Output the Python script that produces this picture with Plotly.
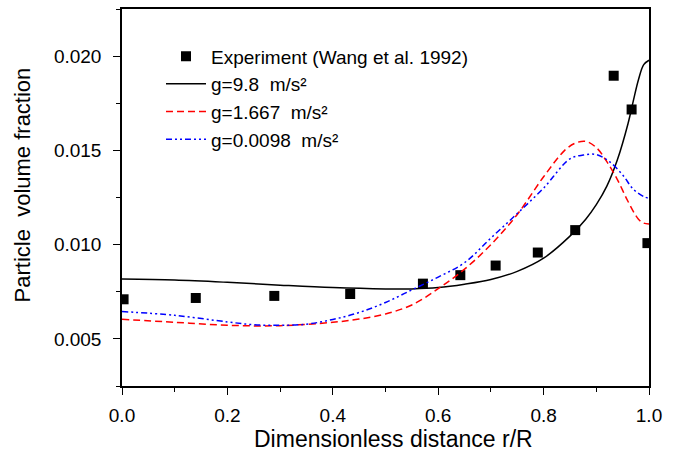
import plotly.graph_objects as go

# Experiment (Wang et al. 1992)
exp_x = [0.003, 0.14, 0.289, 0.433, 0.571, 0.642, 0.709, 0.789, 0.860, 0.933, 0.967, 0.997]
exp_y = [0.00710, 0.00717, 0.00728, 0.00738, 0.00793, 0.00838, 0.00889, 0.00958, 0.01077, 0.01896, 0.01717, 0.01008]

# g = 9.8 m/s^2
g1_x = [0, 0.1, 0.2, 0.3, 0.4, 0.5, 0.55, 0.6, 0.65, 0.7, 0.75, 0.8, 0.85, 0.88, 0.9, 0.92, 0.94, 0.96, 0.97, 0.98, 0.99, 1.0]
g1_y = [0.00817, 0.00812, 0.00800, 0.00785, 0.00772, 0.00765, 0.00765, 0.00772, 0.00790, 0.00815, 0.00858, 0.00928,
        0.01045, 0.01135, 0.01212, 0.01310, 0.01450, 0.01640, 0.01760, 0.01875, 0.01955, 0.01978]

# g = 1.667 m/s^2
g2_x = [0, 0.1, 0.2, 0.3, 0.4, 0.45, 0.5, 0.55, 0.6, 0.65, 0.7, 0.75, 0.8, 0.84, 0.86, 0.88, 0.9, 0.92, 0.94, 0.96, 0.98, 0.99, 1.0]
g2_y = [0.00604, 0.00588, 0.00572, 0.00570, 0.00588, 0.00605, 0.00632, 0.00680, 0.00766, 0.00870, 0.01000, 0.01160,
        0.01360, 0.01500, 0.01538, 0.01548, 0.01515, 0.01440, 0.01345, 0.01230, 0.01135, 0.01114, 0.01110]

# g = 0.0098 m/s^2
g3_x = [0, 0.1, 0.2, 0.25, 0.3, 0.35, 0.4, 0.45, 0.5, 0.55, 0.6, 0.65, 0.7, 0.75, 0.8, 0.85, 0.875, 0.9, 0.925, 0.95, 0.97, 0.99, 1.0]
g3_y = [0.00645, 0.00625, 0.00590, 0.00575, 0.00572, 0.00578, 0.00603, 0.00640, 0.00693, 0.00760, 0.00828, 0.00904,
        0.01035, 0.01165, 0.01300, 0.01455, 0.01475, 0.01478, 0.01440, 0.01370, 0.01295, 0.01255, 0.01246]

y_ticks = [0.005, 0.010, 0.015, 0.020]
x_ticks = [0.0, 0.2, 0.4, 0.6, 0.8, 1.0]

names = ["Experiment (Wang et al. 1992)",
         "g=9.8\u00a0 m/s\u00b2",
         "g=1.667\u00a0 m/s\u00b2",
         "g=0.0098\u00a0 m/s\u00b2"]
x_title = "Dimensionless distance r/R"
y_title = "Particle\u00a0 volume fraction"

fig = go.Figure()
fig.add_trace(go.Scatter(x=exp_x, y=exp_y, mode="markers", name=names[0],
                         marker=dict(symbol="square", size=10, color="black")))
fig.add_trace(go.Scatter(x=g1_x, y=g1_y, mode="lines", name=names[1], line_shape="spline",
                         line=dict(color="black", width=1.5)))
fig.add_trace(go.Scatter(x=g2_x, y=g2_y, mode="lines", name=names[2], line_shape="spline",
                         line=dict(color="red", width=1.5, dash="7px,4px")))
fig.add_trace(go.Scatter(x=g3_x, y=g3_y, mode="lines", name=names[3], line_shape="spline",
                         line=dict(color="blue", width=1.5, dash="6px,3px,2px,3px,2px,3px")))

font = "Liberation Sans, Arial, sans-serif"
axis_common = dict(showline=True, linecolor="black", linewidth=1.5, mirror=True,
                   ticks="outside", ticklen=7, tickwidth=1.2, tickcolor="black",
                   showgrid=False, zeroline=False, automargin=False,
                   tickfont=dict(family=font, size=19, color="black"))

fig.update_xaxes(range=[0, 1.0], tickvals=x_ticks, tickformat=".1f",
                 minor=dict(dtick=0.1, tick0=0, ticks="outside", ticklen=4, tickcolor="black", tickwidth=1.2),
                 ticklabelstandoff=4,
                 **axis_common)
fig.update_yaxes(range=[0.0025, 0.0225], tickvals=y_ticks, tickformat=".3f",
                 minor=dict(dtick=0.0025, tick0=0, ticks="outside", ticklen=4, tickcolor="black", tickwidth=1.2),
                 ticklabelstandoff=8,
                 **axis_common)

fig.add_annotation(text=x_title, xref="paper", yref="paper", x=0.515, y=-0.14,
                   xanchor="center", yanchor="middle", showarrow=False,
                   font=dict(family=font, size=23, color="black"))
fig.add_annotation(text=y_title, xref="paper", yref="paper", x=-0.188, y=0.5345,
                   xanchor="center", yanchor="middle", showarrow=False, textangle=-90,
                   font=dict(family=font, size=22, color="black"))

fig.update_layout(
    width=675, height=451,
    margin=dict(l=122, r=26, t=9, b=65),
    paper_bgcolor="white", plot_bgcolor="white",
    showlegend=True,
    legend=dict(x=0.074, y=0.925, xanchor="left", yanchor="top",
                bgcolor="rgba(0,0,0,0)", borderwidth=0,
                font=dict(family=font, size=19, color="black"),
                itemwidth=40, tracegroupgap=0),
)

fig.write_html("out.html")
